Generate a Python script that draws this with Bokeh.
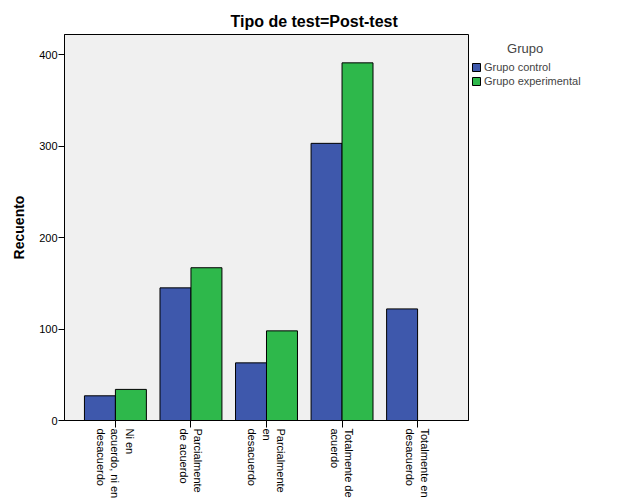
import math
from bokeh.plotting import figure
from bokeh.models import FactorRange, Range1d, Legend, LegendItem, ColumnDataSource
from bokeh.transform import dodge
from bokeh.embed import file_html
from bokeh.resources import INLINE

categories = [
    "Ni en\nacuerdo, ni en\ndesacuerdo",
    "Parcialmente\nde acuerdo",
    "Parcialmente\nen\ndesacuerdo",
    "Totalmente de\nacuerdo",
    "Totalmente en\ndesacuerdo",
]
grupo_control = [27, 145, 63, 303, 122]
grupo_experimental = [34, 167, 98, 391, float("nan")]
series_names = ["Grupo control", "Grupo experimental"]
series_colors = ["#3e58ac", "#2eb84b"]
legend_title = "Grupo"
y_ticks = [0, 100, 200, 300, 400]

FONT = "Liberation Sans"

source = ColumnDataSource(data=dict(cat=categories, control=grupo_control, exp=grupo_experimental))

x_range = FactorRange(factors=categories, range_padding=0.0696, range_padding_units="percent")
p = figure(
    x_range=x_range, y_range=Range1d(0, 422),
    frame_width=404, frame_height=386,
    min_border_left=64, min_border_right=158, min_border_top=34, min_border_bottom=81,
    output_backend="svg", toolbar_location=None,
    background_fill_color="#f0f0f0", border_fill_color="white",
)
p.outline_line_color = "black"
p.outline_line_width = 1

p.title.text = "Tipo de test=Post-test"
p.title.align = "left"
p.title.offset = 166
p.title.text_font = FONT
p.title.text_font_size = "16px"
p.title.text_font_style = "bold"
p.title.text_color = "black"

w = 0.41
r1 = p.vbar(x=dodge("cat", -w / 2, range=x_range), top="control", width=w, source=source,
            fill_color=series_colors[0], line_color="black", line_width=1)
r2 = p.vbar(x=dodge("cat", w / 2, range=x_range), top="exp", width=w, source=source,
            fill_color=series_colors[1], line_color="black", line_width=1)

p.xgrid.visible = False
p.ygrid.visible = False

p.yaxis.ticker = y_ticks
p.yaxis.axis_label = "Recuento"
p.yaxis.axis_label_text_font = FONT
p.yaxis.axis_label_text_font_size = "14px"
p.yaxis.axis_label_text_font_style = "bold"
p.yaxis.axis_label_standoff = 9
p.yaxis.major_label_text_font = FONT
p.yaxis.major_label_text_font_size = "11px"
p.yaxis.major_tick_out = 6
p.yaxis.major_tick_in = 0
p.yaxis.minor_tick_out = 0
p.yaxis.minor_tick_in = 0
p.yaxis.major_label_standoff = 1

p.xaxis.major_label_orientation = -math.pi / 2
p.xaxis.major_label_text_font = FONT
p.xaxis.major_label_text_font_size = "11px"
p.xaxis.major_tick_out = 7
p.xaxis.major_tick_in = 0
p.xaxis.major_label_standoff = 1

for ax in (p.xaxis, p.yaxis):
    ax.axis_line_color = "black"
    ax.major_tick_line_color = "black"
    ax.major_label_text_color = "black"
    ax.axis_label_text_color = "black"

# the legend heading is centred over the keys: indent it with non-breaking spaces
legend = Legend(
    items=[LegendItem(label=series_names[0], renderers=[r1]),
           LegendItem(label=series_names[1], renderers=[r2])],
    title="\u00a0" * 10 + legend_title, title_text_font=FONT, title_text_font_size="13px",
    title_text_font_style="normal", title_standoff=5,
    location=(3, 333), padding=0, margin=0, spacing=2,
    glyph_width=10, glyph_height=10, label_height=10, label_standoff=3,
    label_text_font=FONT, label_text_font_size="11px",
    border_line_color=None, background_fill_alpha=0,
)
p.add_layout(legend, "right")

open("out.html", "w").write(file_html(p, INLINE))
